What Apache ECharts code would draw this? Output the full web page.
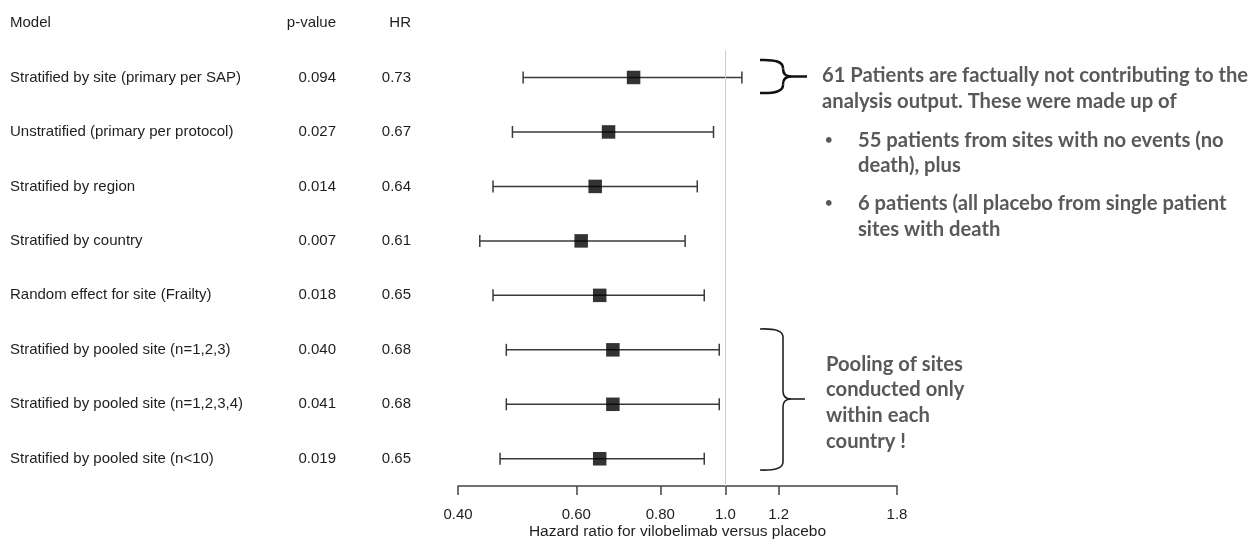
<!DOCTYPE html>
<html>
<head>
<meta charset="utf-8">
<script src="https://cdn.jsdelivr.net/npm/echarts@6/dist/echarts.min.js"></script>
<style>
html,body{margin:0;padding:0;background:#fff;}
#chart{width:1255px;height:540px;}
</style>
</head>
<body>
<div id="chart"></div>
<script>
// ---- data ----
const headers = ['Model', 'p-value', 'HR'];
const models = [
  'Stratified by site (primary per SAP)',
  'Unstratified (primary per protocol)',
  'Stratified by region',
  'Stratified by country',
  'Random effect for site (Frailty)',
  'Stratified by pooled site (n=1,2,3)',
  'Stratified by pooled site (n=1,2,3,4)',
  'Stratified by pooled site (n<10)'
];
const pValues = ['0.094', '0.027', '0.014', '0.007', '0.018', '0.040', '0.041', '0.019'];
const hr = [0.73, 0.67, 0.64, 0.61, 0.65, 0.68, 0.68, 0.65];
const ciLow = [0.500, 0.482, 0.451, 0.431, 0.451, 0.472, 0.472, 0.462];
const ciHigh = [1.058, 0.960, 0.908, 0.871, 0.930, 0.979, 0.979, 0.930];
const xTicks = [0.40, 0.60, 0.80, 1.0, 1.2, 1.8];
const xTickLabels = ['0.40', '0.60', '0.80', '1.0', '1.2', '1.8'];
const xTitle = 'Hazard ratio for vilobelimab versus placebo';
const note1 = ['61 Patients are factually not contributing to the', 'analysis output. These were made up of'];
const bullet1 = ['55 patients from sites with no events (no', 'death), plus'];
const bullet2 = ['6 patients (all placebo from single patient', 'sites with death'];
const note2 = ['Pooling of sites', 'conducted only', 'within each', 'country !'];

// ---- build ----
const ln = Math.log;
const rows = models.map((m, i) => i + 1);
const rowValues = [0].concat(rows);
const errData = hr.map((v, i) => [ln(ciLow[i]), ln(ciHigh[i]), i + 1]);
const ptData = hr.map((v, i) => [ln(v), i + 1]);
const tickVals = xTicks.map(v => ln(v));

function tickLabel(val) {
  let best = 0, d = Infinity;
  tickVals.forEach((t, i) => { const dd = Math.abs(t - val); if (dd < d) { d = dd; best = i; } });
  return xTickLabels[best];
}

const textFont = 'Liberation Sans, Arial, sans-serif';
const noteFont = 'Lato, "Open Sans", sans-serif';
const noteColor = '#595959';
const textColor = '#1e1e1e';

function yAx(formatter, align, margin) {
  return {
    type: 'value', inverse: true, min: 0, max: 8.5, position: 'left', gridIndex: 0,
    axisLine: { show: false }, axisTick: { show: false }, splitLine: { show: false },
    axisLabel: {
      customValues: rowValues, formatter: formatter, align: align, margin: margin,
      color: textColor, fontSize: 15, fontFamily: textFont
    }
  };
}

const graphics = [];
function addText(str, x, y, size) {
  graphics.push({
    type: 'text', x: x, y: y,
    style: { text: str, fill: noteColor, font: 'bold ' + size + 'px ' + noteFont, textVerticalAlign: 'middle', textAlign: 'left' }
  });
}
const nSize = 20.2;
addText(note1[0], 822, 75, nSize);
addText(note1[1], 822, 101, nSize);
addText('•', 825, 140, 13);
addText(bullet1[0], 858, 140, nSize);
addText(bullet1[1], 858, 165, nSize);
addText('•', 825, 203, 13);
addText(bullet2[0], 858, 203, nSize);
addText(bullet2[1], 858, 229, nSize);
note2.forEach((s, i) => addText(s, 826, 364 + i * 25.8, nSize));

// braces (annotation decoration)
function brace(xL, xC, xT, yTop, yMid, yBot, w, color) {
  const st = { fill: 'none', stroke: color, lineWidth: w };
  const r = 8;
  [
    { type: 'bezierCurve', shape: { x1: xL, y1: yTop, cpx1: xC, cpy1: yTop - 1, x2: xC, y2: yTop + r } },
    { type: 'line', shape: { x1: xC, y1: yTop + r, x2: xC, y2: yMid - r } },
    { type: 'bezierCurve', shape: { x1: xC, y1: yMid - r, cpx1: xC, cpy1: yMid, x2: xC + r, y2: yMid } },
    { type: 'line', shape: { x1: xC + r, y1: yMid, x2: xT, y2: yMid } },
    { type: 'bezierCurve', shape: { x1: xC + r, y1: yMid, cpx1: xC, cpy1: yMid, x2: xC, y2: yMid + r } },
    { type: 'line', shape: { x1: xC, y1: yMid + r, x2: xC, y2: yBot - r } },
    { type: 'bezierCurve', shape: { x1: xC, y1: yBot - r, cpx1: xC, cpy1: yBot + 1, x2: xL, y2: yBot } }
  ].forEach(e => { e.style = st; graphics.push(e); });
}
brace(760, 783, 807, 60, 76.5, 93, 2.5, '#111');
brace(760, 783, 805, 329, 399, 470, 1.6, '#222');

const chart = echarts.init(document.getElementById('chart'), null, { renderer: 'canvas' });
chart.setOption({
  animation: false,
  backgroundColor: '#fff',
  grid: { left: 458, right: 358, top: 23, bottom: 540 - 23 - 463, containLabel: false, outerBoundsMode: 'none' },
  xAxis: {
    type: 'value', min: ln(0.4), max: ln(1.8), position: 'bottom',
    axisLine: { show: true, onZero: false, lineStyle: { color: '#444', width: 1.5 } },
    axisTick: { show: true, customValues: tickVals, length: 9, inside: false, lineStyle: { color: '#444', width: 1.5 } },
    axisLabel: { customValues: tickVals, formatter: tickLabel, color: textColor, fontSize: 15, fontFamily: textFont, margin: 21 },
    splitLine: { show: false },
    name: xTitle, nameLocation: 'middle', nameGap: 38, nameMoveOverlap: false,
    nameTextStyle: { color: textColor, fontSize: 15.5, fontFamily: textFont }
  },
  yAxis: [
    yAx(v => v === 0 ? headers[0] : models[v - 1], 'left', 448),
    yAx(v => v === 0 ? headers[1] : pValues[v - 1], 'right', 122),
    yAx(v => v === 0 ? headers[2] : hr[v - 1].toFixed(2), 'right', 47)
  ],
  series: [
    {
      type: 'custom', yAxisIndex: 0, data: errData, z: 2,
      renderItem: function (params, api) {
        const a = api.coord([api.value(0), api.value(2)]);
        const b = api.coord([api.value(1), api.value(2)]);
        const h = 6;
        const st = { stroke: '#3a3a3a', lineWidth: 1.5 };
        return {
          type: 'group', children: [
            { type: 'line', shape: { x1: a[0], y1: a[1], x2: b[0], y2: b[1] }, style: st },
            { type: 'line', shape: { x1: a[0], y1: a[1] - h, x2: a[0], y2: a[1] + h }, style: st },
            { type: 'line', shape: { x1: b[0], y1: b[1] - h, x2: b[0], y2: b[1] + h }, style: st }
          ]
        };
      },
      markLine: {
        silent: true, symbol: 'none', label: { show: false },
        lineStyle: { color: '#cfcfcf', width: 1, type: 'solid' },
        data: [[{ coord: [0, 0.5] }, { coord: [0, 8.5] }]]
      }
    },
    {
      type: 'scatter', yAxisIndex: 0, data: ptData, symbol: 'rect', symbolSize: 13.5, z: 3,
      itemStyle: { color: '#000' }
    }
  ],
  graphic: graphics
});
</script>
</body>
</html>
